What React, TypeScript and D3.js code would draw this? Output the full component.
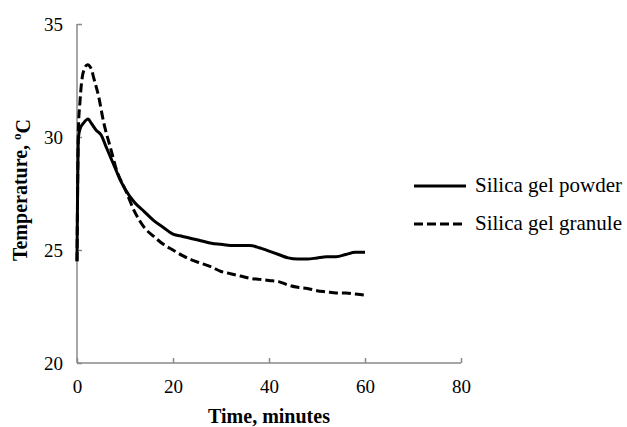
import React, { useEffect, useRef } from 'react';
import * as d3 from 'd3';

// time (minutes) and temperature (°C)
const powderTime = [0, 0.3, 0.7, 1.3, 2.3, 3, 4, 5, 6, 7, 8, 9, 10, 12, 14, 16, 18, 20, 22, 24, 26, 28, 30, 32, 34, 36, 38, 40, 42, 44, 46, 48, 50, 52, 54, 56, 58, 60];
const powderTemp = [24.5, 30.0, 30.4, 30.6, 30.8, 30.6, 30.3, 30.1, 29.6, 29.1, 28.6, 28.1, 27.7, 27.1, 26.7, 26.3, 26.0, 25.7, 25.6, 25.5, 25.4, 25.3, 25.25, 25.2, 25.2, 25.2, 25.1, 24.95, 24.8, 24.65, 24.6, 24.6, 24.65, 24.7, 24.7, 24.8, 24.9, 24.9];

const granuleTime = [0, 0.3, 0.6, 1, 1.5, 2.2, 3, 3.5, 4.5, 5.5, 7, 8.3, 10, 12, 14, 16, 18, 20, 22, 24, 26, 28, 30, 32, 34, 36, 38, 40, 42, 44, 46, 48, 50, 52, 54, 56, 58, 60];
const granuleTemp = [24.5, 30.4, 31.5, 32.5, 33.0, 33.2, 33.0, 32.6, 31.8, 30.7, 29.5, 28.5, 27.7, 26.7, 26.0, 25.6, 25.25, 25.0, 24.75, 24.55, 24.4, 24.25, 24.05, 23.95, 23.85, 23.75, 23.7, 23.65, 23.6, 23.45, 23.35, 23.3, 23.2, 23.15, 23.1, 23.1, 23.05, 23.0];

const seriesNames = ['Silica gel powder', 'Silica gel granule'];
const xTicks = [0, 20, 40, 60, 80];
const yTicks = [20, 25, 30, 35];

const width = 627;
const height = 427;
const margin = { left: 77, right: 166, top: 24, bottom: 64 };
const font = 'Liberation Serif, Times New Roman, Times, serif';

export default function App() {
  const ref = useRef<SVGSVGElement>(null);

  useEffect(() => {
    const svg = d3.select(ref.current);
    svg.selectAll('*').remove();

    const x = d3.scaleLinear().domain([0, 80]).range([margin.left, width - margin.right]);
    const y = d3.scaleLinear().domain([20, 35]).range([height - margin.bottom, margin.top]);

    const axisColor = '#8a8a8a';

    const gx = svg.append('g')
      .attr('transform', `translate(0,${y(20)})`)
      .call(d3.axisBottom(x).tickValues(xTicks).tickSize(-5).tickPadding(17).tickFormat(d3.format('d')));
    const gy = svg.append('g')
      .attr('transform', `translate(${x(0)},0)`)
      .call(d3.axisLeft(y).tickValues(yTicks).tickSize(-5).tickPadding(14).tickFormat(d3.format('d')));

    [gx, gy].forEach(g => {
      g.attr('font-family', font).attr('font-size', 19);
      g.select('.domain').attr('stroke', axisColor).attr('stroke-width', 1.5);
      g.selectAll('.tick line').attr('stroke', axisColor).attr('stroke-width', 1.5);
      g.selectAll('.tick text').attr('fill', '#000');
    });
    gy.select('.domain').attr('d', `M-0,${y(35)}V${y(20)}`);
    gx.select('.domain').attr('d', `M${x(0)},0H${x(80)}`);

    const line = d3.line<[number, number]>()
      .x(d => x(d[0]))
      .y(d => y(d[1]))
      .curve(d3.curveMonotoneX);

    const powder = powderTime.map((t, i) => [t, powderTemp[i]] as [number, number]);
    const granule = granuleTime.map((t, i) => [t, granuleTemp[i]] as [number, number]);

    svg.append('path')
      .attr('d', line(granule))
      .attr('fill', 'none')
      .attr('stroke', '#000')
      .attr('stroke-width', 3)
      .attr('stroke-dasharray', '9,4');

    svg.append('path')
      .attr('d', line(powder))
      .attr('fill', 'none')
      .attr('stroke', '#000')
      .attr('stroke-width', 3);

    // legend
    const legend = svg.append('g').attr('font-family', font).attr('font-size', 21);
    seriesNames.forEach((name, i) => {
      const ly = 186 + i * 38;
      legend.append('line')
        .attr('x1', 414).attr('x2', 466)
        .attr('y1', ly).attr('y2', ly)
        .attr('stroke', '#000')
        .attr('stroke-width', 3)
        .attr('stroke-dasharray', i === 1 ? '9,4' : null);
      legend.append('text')
        .attr('x', 475).attr('y', ly + 6)
        .text(name);
    });

    // axis titles
    svg.append('text')
      .attr('x', (x(0) + x(80)) / 2)
      .attr('y', 423)
      .attr('text-anchor', 'middle')
      .attr('font-family', font)
      .attr('font-size', 20)
      .attr('font-weight', 'bold')
      .text('Time, minutes');

    const yt = svg.append('text')
      .attr('transform', 'translate(27,190) rotate(-90)')
      .attr('text-anchor', 'middle')
      .attr('font-family', font)
      .attr('font-size', 20)
      .attr('font-weight', 'bold');
    yt.append('tspan').text('Temperature, ');
    yt.append('tspan').attr('dy', '-0.45em').attr('font-size', 13).text('o');
    yt.append('tspan').attr('dy', '0.45em').text('C');
  }, []);

  return (
    <svg
      ref={ref}
      width={width}
      height={height}
      style={{ position: 'absolute', left: 0, top: 0, background: '#fff' }}
    />
  );
}
